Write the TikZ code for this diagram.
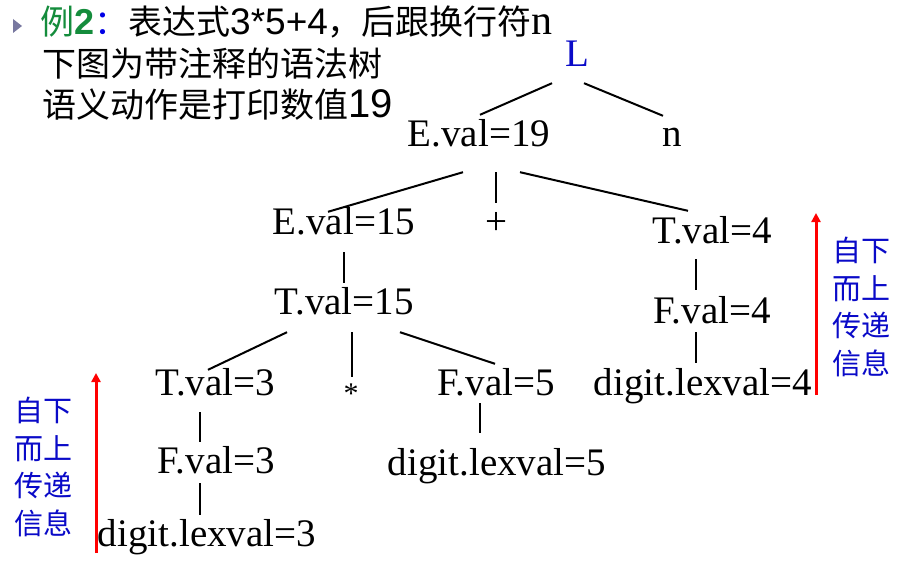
\documentclass[tikz,border=0pt]{standalone}
\usepackage{fontspec}
\setmainfont{Liberation Serif}
\newfontfamily\cjk{Noto Sans CJK SC}
\newfontfamily\lsans{Liberation Sans}
\usetikzlibrary{calc,arrows.meta}
\definecolor{hdgreen}{RGB}{20,140,60}
\definecolor{hdblue}{RGB}{0,0,230}
\definecolor{txtblue}{RGB}{10,10,200}
\definecolor{bulletc}{RGB}{120,120,160}
\begin{document}
\begin{tikzpicture}[x=1pt,y=-1pt,
  tn/.style={anchor=base,inner sep=0pt,text height=27pt,text depth=0pt,font=\fontsize{39}{45}\selectfont},
  edge/.style={line width=2pt},
  upar/.style={draw=red,line width=3pt,-{Triangle[length=9pt,width=9pt]}},
  side/.style={text=txtblue,font=\cjk\fontsize{29}{37.7}\selectfont,align=center,inner sep=0pt},
  hd/.style={anchor=base west,inner sep=0pt,font=\cjk\fontsize{34}{40}\selectfont}]
\useasboundingbox (0,0) rectangle (904,564);
\fill[white] (0,0) rectangle (904,564);

% header
\fill[bulletc] (13,19) -- (22,26) -- (13,33) -- cycle;
\node[hd] (h1) at (40,35) {{\color{hdgreen}例}{\color{hdgreen}\lsans\bfseries\fontsize{36}{40}\selectfont 2}{\color{hdblue}：}表达式{\lsans\fontsize{37}{40}\selectfont 3*5+4}，后跟换行符{\rmfamily\fontsize{42}{40}\selectfont n}};
\node[hd] (h2) at (42,77) {下图为带注释的语法树};
\node[hd] (h3) at (42,118) {语义动作是打印数值{\lsans\fontsize{40}{40}\selectfont 19}};

% tree nodes
\node[tn,text=txtblue] (L) at (577,67) {L};
\node[tn] (E19) at (479,147) {E.val=19};
\node[tn] (n) at (672,147) {n};
\node[tn] (E15) at (344,234) {E.val=15};
\node[tn] (plus) at (496,234) {+};
\node[tn] (T4) at (712,243) {T.val=4};
\node[tn] (T15) at (344,314) {T.val=15};
\node[tn] (T3) at (215,395) {T.val=3};
\node[anchor=base,inner sep=0pt,font=\fontsize{30}{34}\selectfont] (star) at (351,403) {*};
\node[tn] (F5) at (496,395) {F.val=5};
\node[tn] (F4) at (712,323) {F.val=4};
\node[tn] (d4) at (703,395) {digit.lexval=4};
\node[tn] (F3) at (216,473) {F.val=3};
\node[tn] (d5) at (497,475) {digit.lexval=5};
\node[tn] (d3) at (207,546) {digit.lexval=3};

% connectors
\draw[edge] ($(L.south)+(-25,16)$) -- ($(E19.north)+(1,-5)$);
\draw[edge] ($(L.south)+(7,16)$) -- ($(n.north)+(-9,-4)$);
\draw[edge] ($(E19.south)+(-16,25)$) -- ($(E15.north)+(-16,5)$);
\draw[edge] ($(E19.south)+(17,25)$) -- ($(plus.north)+(0,-4)$);
\draw[edge] ($(E19.south)+(41,25)$) -- ($(T4.north)+(-24,-5)$);
\draw[edge] ($(E15.south)+(0,18)$) -- ($(T15.north)+(0,-4)$);
\draw[edge] ($(T15.south)+(-57,18)$) -- ($(T3.north)+(-7,2)$);
\draw[edge] ($(T15.south)+(8,18)$) -- ($(star.center)+(1,-16)$);
\draw[edge] ($(T15.south)+(56,18)$) -- ($(F5.north)+(-1,-4)$);
\draw[edge] ($(T3.south)+(-15,17)$) -- ($(F3.north)+(-16,-4)$);
\draw[edge] ($(F3.south)+(-16,10)$) -- ($(d3.north)+(-7,-4)$);
\draw[edge] ($(F5.south)+(-16,8)$) -- ($(d5.north)+(-17,-15)$);
\draw[edge] ($(T4.south)+(-16,16)$) -- ($(F4.north)+(-16,-6)$);
\draw[edge] ($(F4.south)+(-16,9)$) -- ($(d4.north)+(-7,-5)$);

% side annotations
\coordinate (ra0) at (816,395);
\coordinate (ra1) at (816,213);
\draw[upar] (ra0) -- (ra1);
\coordinate (la0) at (96,553);
\coordinate (la1) at (96,373);
\draw[upar] (la0) -- (la1);
\node[side] (rs) at (861,307) {自下\\而上\\传递\\信息};
\node[side] (ls) at (43,467) {自下\\而上\\传递\\信息};
\end{tikzpicture}
\end{document}
